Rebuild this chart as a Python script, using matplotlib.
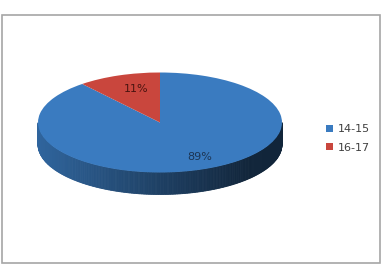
import numpy as np
import matplotlib
matplotlib.use("Agg")
import matplotlib.pyplot as plt
from matplotlib.patches import Polygon, Rectangle
from matplotlib.colors import to_rgb

categories = ["14-15", "16-17"]
values = [89, 11]
colors = ["#3a7bc0", "#c9463d"]
label_colors = ["#1c3554", "#4a1410"]

W, H = 381, 269
fig = plt.figure(figsize=(W / 100, H / 100), dpi=100)
ax = fig.add_axes([0, 0, 1, 1])

# geometry (pixels)
cx, cy = 160, 122.5
rx, ry = 122, 50
depth_px = 22
depth = depth_px / ry

wedges, texts, autotexts = ax.pie(
    values, colors=colors, startangle=90, counterclock=False,
    autopct="%1.0f%%", pctdistance=0.72,
    wedgeprops=dict(linewidth=0, zorder=3),
    textprops=dict(fontsize=8, zorder=5),
)
for t, c in zip(autotexts, label_colors):
    t.set_color(c)
    t.set_zorder(6)
# small label adjustments
x0, y0 = autotexts[0].get_position()
autotexts[0].set_position((x0 + 0.08, y0 - 0.02))
x1, y1 = autotexts[1].get_position()
autotexts[1].set_position((x1 + 0.05, y1))

# side band of the 3D pie (front half only), shaded left->right
def shade(x):
    f = 0.82 - (x + 1) / 1.75 * 0.52
    return max(0.30, f)

for w, col in zip(wedges, colors):
    t1, t2 = w.theta1, w.theta2
    base = np.array(to_rgb(col))
    angs = np.linspace(t1, t2, 400)
    for a, b in zip(angs[:-1], angs[1:]):
        am = ((a + b) / 2) % 360
        if not (180 <= am <= 360):
            continue
        ra, rb = np.radians(a), np.radians(b)
        xa, ya = np.cos(ra), np.sin(ra)
        xb, yb = np.cos(rb), np.sin(rb)
        poly = [(xa, ya), (xb, yb), (xb, yb - depth), (xa, ya - depth)]
        c = base * shade((xa + xb) / 2)
        ax.add_patch(Polygon(poly, closed=True, facecolor=c, edgecolor=c,
                             linewidth=0.6, zorder=2))

ax.set_aspect("auto")
ax.set_xlim(-cx / rx, (W - cx) / rx)
ax.set_ylim(-(H - cy) / ry, cy / ry)
ax.axis("off")

leg = fig.legend(wedges, categories, loc="upper left",
                 bbox_to_anchor=(326 / W, 1 - 124 / H), frameon=False,
                 fontsize=8, handlelength=0.6, handleheight=0.6,
                 handletextpad=0.45, labelspacing=0.8, borderpad=0,
                 borderaxespad=0)
for t in leg.get_texts():
    t.set_color("#404040")

fig.patches.append(Rectangle((1.5 / W, 1 - 263 / H), 378 / W, 248 / H,
                             transform=fig.transFigure, fill=False,
                             edgecolor="#a6a6a6", linewidth=1.2))

fig.savefig("out.png", dpi=100)
